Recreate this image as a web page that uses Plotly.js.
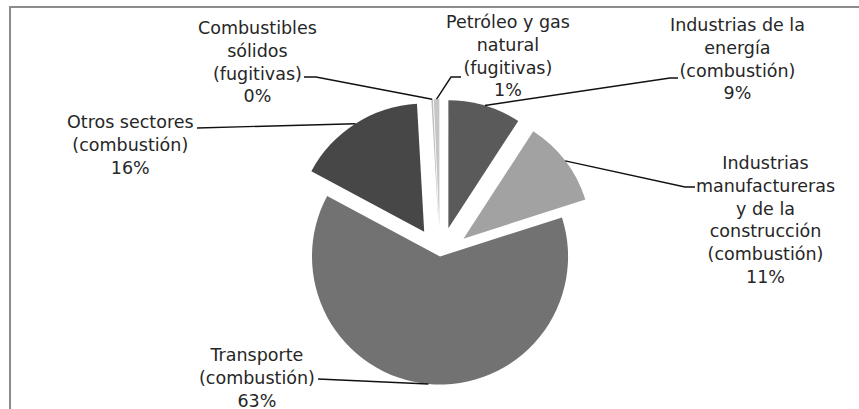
<!DOCTYPE html>
<html>
<head>
<meta charset="utf-8">
<script src="https://cdn.plot.ly/plotly-3.0.1.min.js"></script>
<style>
    html, body { margin: 0; padding: 0; background: #ffffff; overflow: hidden; }
    #frame {
        position: absolute; left: 9px; top: 6px; width: 900px; height: 450px;
        border-left: 2px solid #8c8c8c; border-top: 2px solid #8c8c8c;
    }
    #chart { position: absolute; left: 0; top: 0; width: 859px; height: 414px; }
</style>
</head>
<body>
<div id="frame"></div>
<div id="chart"></div>
<script>
// sectors, clockwise from 12 o'clock
const categories = [
    'Industrias de la<br>energía<br>(combustión)',
    'Industrias<br>manufactureras<br>y de la<br>construcción<br>(combustión)',
    'Transporte<br>(combustión)',
    'Otros sectores<br>(combustión)',
    'Combustibles<br>sólidos<br>(fugitivas)',
    'Petróleo y gas<br>natural<br>(fugitivas)'
];
const shares = [9.2, 10.9, 62.9, 16.3, 0.2, 0.7];

// styling
const sliceColors = ['#5a5a5a', '#a2a2a2', '#727272', '#474747', '#bdbdbd', '#c6c6c6'];
const explode = [0.23, 0.23, 0, 0.23, 0.23, 0.23];

// label layout in px: block centre, where the leader leaves the text, short elbow
const labelCenters = [[737, 59], [765, 220], [257, 378], [130, 145], [257, 62], [508, 56]];
const leaderStart = [[678, 78], [695, 187], [318, 379], [197, 128], [304, 77], [461, 77]];
const elbowDx = [-8, -10, 0, 0, 12, -10];

const FONT = { family: '"DejaVu Sans", Verdana, sans-serif', size: 17.5, color: '#262626' };

const W = 859, H = 414;
const MARGIN = { l: 0, r: 0, t: 99, b: 0 };

const trace = {
    type: 'pie',
    labels: categories,
    values: shares,
    sort: false,
    direction: 'clockwise',
    rotation: 0,
    pull: explode,
    marker: { colors: sliceColors, line: { width: 0 } },
    textinfo: 'none',
    hoverinfo: 'none',
    domain: { x: [0.05, 0.9745], y: [0, 1] }
};

const layout = {
    width: W,
    height: H,
    margin: MARGIN,
    showlegend: false,
    paper_bgcolor: 'rgba(0,0,0,0)',
    plot_bgcolor: 'rgba(0,0,0,0)',
    font: FONT
};

Plotly.newPlot('chart', [trace], layout, { staticPlot: true, displayModeBar: false }).then(gd => {
    const cd = gd.calcdata[0];
    const cd0 = cd[0];
    const sz = gd._fullLayout._size;
    const total = shares.reduce((a, b) => a + b, 0);
    const px = x => (x - sz.l) / sz.w;
    const py = y => 1 - (y - sz.t) / sz.h;

    const annotations = [];
    const shapes = [];
    cd.forEach(pt => {
        const i = pt.i;
        // point on the outer arc of the (pulled) slice, at its mid angle
        const k = 1 + explode[i];
        const hx = cd0.cx + pt.pxmid[0] * k;
        const hy = cd0.cy + pt.pxmid[1] * k;

        annotations.push({
            xref: 'paper', yref: 'paper',
            x: px(labelCenters[i][0]), y: py(labelCenters[i][1]),
            xanchor: 'center', yanchor: 'middle',
            text: categories[i] + '<br>' + Math.round(shares[i] / total * 100) + '%',
            align: 'center',
            font: FONT,
            showarrow: false
        });

        const [sx, sy] = leaderStart[i];
        const ex = sx + elbowDx[i];
        shapes.push({
            type: 'path',
            xref: 'paper', yref: 'paper',
            path: `M${px(sx)},${py(sy)} L${px(ex)},${py(sy)} L${px(hx)},${py(hy)}`,
            line: { color: '#111111', width: 1.4 }
        });
    });

    return Plotly.relayout(gd, { annotations: annotations, shapes: shapes });
});
</script>
</body>
</html>
